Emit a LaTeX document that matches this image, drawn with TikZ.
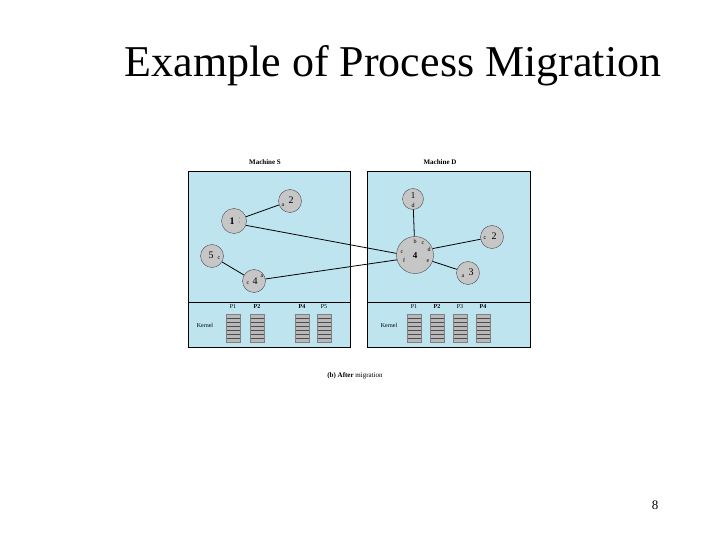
\documentclass[tikz,border=0pt]{standalone}
\usepackage{fontspec}
\setmainfont{Liberation Serif}
\begin{document}
\begin{tikzpicture}[x=1pt,y=-1pt,
  proc/.style={circle,draw=black!70,fill=gray!45,inner sep=0pt},
  conn/.style={line width=0.8pt},
  lab/.style={font=\fontsize{7}{8}\selectfont\bfseries},
  sm/.style={font=\fontsize{6}{7}\selectfont,inner sep=0pt}]
\useasboundingbox (0,0) rectangle (720,540);
\definecolor{panel}{RGB}{190,228,240}
\node[font=\fontsize{44}{46}\selectfont,anchor=center] (title) at (393,66) {Example of Process Migration};
\node[font=\fontsize{13}{14}\selectfont] (pg) at (655,505) {8};
% boxes
\fill[panel] (188,171) rectangle (350,347);
\draw[line width=0.8pt] (188,171) rectangle (350,347) (188,302) -- (350,302);
\fill[panel] (367,171) rectangle (530,347);
\draw[line width=0.8pt] (367,171) rectangle (530,347) (367,302) -- (530,302);
\node[lab] (ms) at (265,162) {Machine S};
\node[lab] (md) at (440,162) {Machine D};
\node[font=\fontsize{7}{8}\selectfont] (cap) at (355,376) {\textbf{(b) After} migration};
% processes
\node[proc,minimum size=23pt] (s2) at (290,201) {};
\node[proc,minimum size=25pt] (s1) at (234,221) {};
\node[proc,minimum size=23pt] (s5) at (212,256) {};
\node[proc,minimum size=23pt] (s4) at (254,281) {};
\node[proc,minimum size=21pt] (d1) at (413,199) {};
\node[proc,minimum size=37pt] (d4) at (415,255) {};
\node[proc,minimum size=23pt] (d2) at (492,237) {};
\node[proc,minimum size=23pt] (d3) at (468,273) {};
\node[font=\fontsize{10}{10}\selectfont] at (291,200) {2};
\node[sm] at (283,205) {a};
\node[font=\fontsize{10}{10}\selectfont\bfseries] at (232,221) {1};
\node[sm,align=center,font=\fontsize{4}{4}\selectfont] at (240,221) {:\\:};
\node[font=\fontsize{10}{10}\selectfont] at (211,255) {5};
\node[sm] at (219,258) {c};
\node[font=\fontsize{10}{10}\selectfont] at (255,281) {4};
\node[sm] at (248,283) {c};
\node[sm] at (262,276) {a};
\node[font=\fontsize{9}{9}\selectfont] at (413,196) {1};
\node[sm] at (413,205) {d};
\node[font=\fontsize{9}{9}\selectfont\bfseries] at (415,256) {4};
\node[sm] at (415,241) {b};
\node[sm] at (423,243) {c};
\node[sm] at (429,249) {d};
\node[sm] at (428,261) {e};
\node[sm] at (402,252) {c};
\node[sm] at (404,260) {f};
\node[font=\fontsize{10}{10}\selectfont] at (494,236) {2};
\node[sm] at (485,238) {c};
\node[font=\fontsize{10}{10}\selectfont] at (471,272) {3};
\node[sm] at (463,276) {a};
% connectors
\draw[conn] (s1) -- (s2);
\draw[conn] (s5) -- (s4);
\draw[conn] (s1.-20) -- (d4.175);
\draw[conn] (s4.10) -- (d4.195);
\draw[conn] (d1) -- (d4);
\draw[conn] (d4.20) -- (d2);
\draw[conn] (d4.-20) -- (d3);
% kernels
\node[font=\fontsize{6}{7}\selectfont] (k1) at (205,325) {Kernel};
\node[font=\fontsize{6}{7}\selectfont] (k2) at (389,325) {Kernel};
\foreach \x/\t in {233/P1,257/\textbf{P2},302/\textbf{P4},324/P5,414/P1,437/\textbf{P2},460/P3,483/\textbf{P4}}{
  \node[font=\fontsize{6}{7}\selectfont] at (\x,307) {\t};
  \fill[gray!55] (\x-7,314) rectangle (\x+7,342);
  \foreach \yy in {318,322,...,340} \draw[black!70,line width=0.5pt] (\x-7,\yy) -- (\x+7,\yy);
  \draw[gray,line width=0.3pt] (\x-7,314) rectangle (\x+7,342);
}
\end{tikzpicture}
\end{document}
